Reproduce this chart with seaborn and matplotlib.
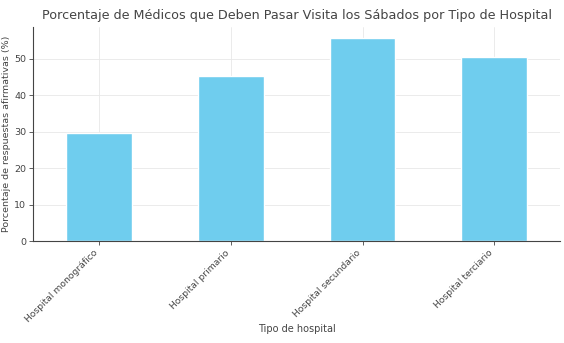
import matplotlib
matplotlib.use("Agg")
import matplotlib.pyplot as plt
import seaborn as sns
import pandas as pd

sns.set_style("whitegrid")
plt.rcParams["font.family"] = ["DejaVu Sans"]

tipos = ["Hospital monográfico", "Hospital primario", "Hospital secundario", "Hospital terciario"]
porcentajes = [29.6, 45.1, 55.7, 50.5]

df = pd.DataFrame({"tipo": tipos, "pct": porcentajes})

fig, ax = plt.subplots(figsize=(5.64, 3.43), dpi=100)
sns.barplot(data=df, x="tipo", y="pct", color="#6FCDEE", saturation=1, width=0.5, ax=ax)

ax.set_title("Porcentaje de Médicos que Deben Pasar Visita los Sábados por Tipo de Hospital",
             fontsize=9.2, color="#444444", pad=6)
ax.set_xlabel("Tipo de hospital", fontsize=7.0, color="#444444", labelpad=0)
ax.set_ylabel("Porcentaje de respuestas afirmativas (%)", fontsize=6.8, color="#444444", labelpad=2)
ax.set_xlim(-0.5, 3.5)
ax.set_ylim(0, 58.6)
ax.set_yticks([0, 10, 20, 30, 40, 50])
ax.tick_params(axis="y", labelsize=6.8, colors="#444444", length=3, width=0.6, left=True, pad=2)
ax.tick_params(axis="x", labelsize=6.6, colors="#444444", length=3, width=0.6, bottom=True, pad=2)
plt.setp(ax.get_xticklabels(), rotation=45, ha="right")
ax.grid(True, color="#e8e8e8", linewidth=0.6)
sns.despine(ax=ax)
for s in ["left", "bottom"]:
    ax.spines[s].set_color("#444444")
    ax.spines[s].set_linewidth(0.8)

fig.subplots_adjust(left=0.059, right=0.993, top=0.921, bottom=0.297)
fig.savefig("out.png", dpi=100)
